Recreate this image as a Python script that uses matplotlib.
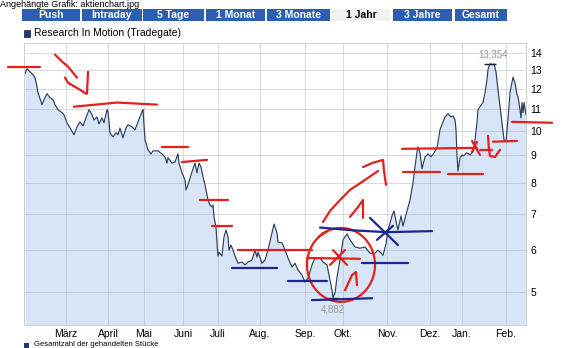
import numpy as np
import matplotlib
matplotlib.use('Agg')
import matplotlib.pyplot as plt
from matplotlib.patches import Rectangle
from matplotlib.ticker import NullLocator

plt.rcParams['font.family'] = ['Liberation Sans', 'DejaVu Sans']

# ---------------- data (trading-day index, price in EUR) ----------------
day = [0.5, 1.5, 3, 4.5, 5.5, 6.5, 7, 8.5, 9, 10, 11.5, 13, 14.5, 15.5, 17, 19, 20,
       21.5, 23, 25, 26.5, 28, 29.5, 31, 32.5, 34, 35, 36.5, 37.5, 39, 40, 41.5, 42,
       43, 44.5, 46, 47, 48, 49.5, 51, 52, 54, 55.5, 57, 59, 59.5, 60.5, 62, 63.5,
       64.5, 67, 69, 70.5, 71.5, 72, 74, 75.5, 77, 77.5, 79, 80.5, 81, 82, 84, 85.5,
       86.5, 87.5, 88.5, 89.5, 90.5, 91.5, 92, 93, 94, 94.5, 95, 96, 96.5, 97, 97.5,
       99, 100, 101, 102, 102.5, 103.5, 104.5, 105.5, 107, 109, 110.5, 112, 114,
       115.5, 116.5, 117, 119, 120.5, 122, 124, 125, 126.5, 127, 129, 130.5, 132,
       134, 135.5, 137, 139, 140.5, 142, 144, 145.5, 148, 149.5, 151.5, 152.5, 154,
       154.5, 155.5, 156.5, 158, 159.5, 161.5, 163, 165.5, 168, 170.5, 173, 175.5,
       177, 179.5, 181, 182, 184, 185, 186, 187, 188.5, 189.5, 191.5, 193, 194.5,
       195.5, 196.5, 197, 198, 199, 200.5, 202, 203.5, 205, 206.5, 208, 209.5, 210.5,
       212, 213.5, 214.5, 215.5, 216, 216.5, 217, 218, 219, 219.5, 221.5, 223, 224.5,
       225.5, 226.5, 227, 228, 229.5, 230.5, 231.5, 232, 233, 234.5, 235, 236, 237,
       238, 239, 240, 241, 241.5, 242.5, 243, 244.5, 245.5, 246.5, 247, 248, 248.5,
       249, 249.5, 250, 251]
price = [12.79, 13.07, 12.90, 12.74, 12.58, 12.09, 11.79, 11.34, 11.20, 11.44, 11.74,
         11.54, 11.44, 11.20, 10.96, 10.82, 10.72, 10.36, 10.13, 9.84, 10.18, 10.40,
         10.22, 10.58, 10.96, 10.72, 10.49, 10.62, 10.31, 10.58, 10.36, 10.96, 10.87,
         9.92, 9.75, 9.92, 9.84, 10.13, 9.71, 10.13, 10.27, 10.18, 10.05, 10.40, 10.87,
         10.96, 9.63, 9.22, 9.06, 9.18, 9.18, 9.06, 8.94, 8.71, 8.91, 8.71, 8.75, 9.06,
         8.71, 8.35, 8.10, 7.76, 7.93, 8.39, 8.71, 8.35, 8.71, 8.56, 8.21, 7.93, 7.60,
         7.43, 7.27, 7.21, 7.27, 6.91, 6.61, 6.17, 5.84, 5.93, 5.84, 6.34, 6.53, 6.34,
         5.99, 6.12, 5.99, 5.84, 5.66, 5.69, 5.62, 5.69, 5.74, 5.99, 5.81, 5.94, 5.66,
         5.74, 5.99, 6.45, 6.70, 6.45, 6.20, 6.18, 5.99, 5.79, 5.57, 5.66, 5.50, 5.38,
         5.22, 5.31, 5.62, 5.79, 5.79, 5.69, 5.62, 5.38, 5.04, 4.882, 4.98, 5.33, 5.74,
         6.26, 6.42, 6.26, 6.07, 6.04, 6.07, 5.91, 5.91, 5.99, 5.86, 6.15, 6.53, 6.94,
         7.09, 6.79, 6.53, 6.94, 6.64, 7.09, 7.43, 8.00, 8.57, 9.14, 9.34, 9.10, 8.50,
         8.94, 9.06, 8.95, 9.10, 9.30, 10.05, 10.40, 10.62, 10.77, 10.62, 10.67, 10.49,
         10.05, 8.98, 8.42, 8.91, 9.02, 8.98, 9.10, 9.02, 9.14, 9.63, 10.36, 10.96,
         11.10, 11.30, 11.79, 12.47, 13.02, 13.354, 13.30, 13.35, 12.90, 11.94, 11.10,
         10.36, 9.63, 9.55, 10.05, 11.10, 11.79, 12.60, 12.30, 11.69, 11.59, 10.96,
         10.58, 11.30, 10.82, 11.30, 10.72]

month_labels = ['März', 'April', 'Mai', 'Juni', 'Juli', 'Aug.', 'Sep.', 'Okt.',
                'Nov.', 'Dez.', 'Jan.', 'Feb.']
month_pos = [21, 42, 60, 79.5, 97, 118, 140.5, 159.5, 181.5, 203, 219, 241]
price_ticks = [5, 6, 7, 8, 9, 10, 11, 12, 13, 14]

tabs = ['Push', 'Intraday', '5 Tage', '1 Monat', '3 Monate', '1 Jahr', '3 Jahre', 'Gesamt']
active_tab = '1 Jahr'
series_name = 'Research In Motion (Tradegate)'
title_text = 'Angehängte Grafik: aktienchart.jpg'
footer_text = 'Gesamtzahl der gehandelten Stücke'

# hand-drawn annotations (day index, price)
red_strokes = [
    [(-8, 13.19), (8, 13.19)],
    [(15.5, 13.89), (19, 13.48), (22, 13.19), (24.5, 12.85), (26.5, 12.58)],
    [(20.5, 12.58), (22, 12.31), (25.5, 12.09), (28, 11.94), (31, 11.74)],
    [(32, 12.90), (31.5, 11.74)],
    [(25, 11.10), (46.5, 11.30), (66.5, 11.20)],
    [(69, 9.34), (82, 9.34)],
    [(79, 8.75), (91.5, 8.83)],
    [(88, 7.43), (102, 7.43)],
    [(94, 6.64), (104, 6.64)],
    [(107, 6.0), (144, 6.0)],
    [(141.5, 5.79), (168, 5.77)],
    [(154.5, 5.99), (161.5, 5.62)],
    [(153, 5.62), (160.5, 5.99)],
    [(160.5, 5.04), (164, 5.38), (166, 5.45), (166.5, 5.15)],
    [(149.5, 6.76), (153, 7.09), (158, 7.43), (163, 7.76), (170.5, 8.10), (177, 8.42)],
    [(169.5, 8.56), (174, 8.71), (179.5, 8.83), (180, 8.42), (181, 7.93)],
    [(163, 6.91), (167, 7.21), (169.5, 7.43), (169.5, 6.88)],
    [(189, 9.26), (226.5, 9.30)],
    [(189.5, 8.39), (208, 8.39)],
    [(212, 8.31), (229.5, 8.31)],
    [(224, 9.58), (228, 9.02)],
    [(226.5, 9.55), (224, 9.14)],
    [(228, 9.22), (234, 9.22)],
    [(232, 9.79), (232.5, 9.22), (233, 8.98), (235.5, 8.94), (238, 9.22)],
    [(234.5, 9.55), (246.5, 9.58)],
    [(244, 10.40), (264, 10.36)],
]
red_circle = {'day': 158.5, 'price': 5.62, 'rx': 17, 'rlog': 0.159}
blue_strokes = [
    [(104, 5.55), (126.5, 5.55)],
    [(132, 5.24), (151.5, 5.24)],
    [(144, 4.83), (174, 4.87)],
    [(148, 6.60), (165, 6.52), (181.5, 6.47), (204, 6.50)],
    [(173, 6.88), (187, 6.12)],
    [(176.5, 6.26), (184.5, 6.65)],
    [(169, 5.67), (192, 5.67)],
]

# ---------------- figure ----------------
W, H = 575, 348
fig = plt.figure(figsize=(W / 100, H / 100), dpi=100)
fig.patch.set_facecolor('white')

def fx(px):
    return px / W

def fy(py):
    return 1 - py / H

ax = fig.add_axes([fx(24), fy(325), fx(526) - fx(24), fy(43) - fy(325)])
ax.set_yscale('log')
ymin, ymax = 4.34, 14.6
ax.set_ylim(ymin, ymax)
ax.set_xlim(0, 251)

ax.fill_between(day, price, ymin, color='#d8e5f7', lw=0, zorder=0.3)
ax.plot(day, price, color='#2a3f5e', lw=0.85, zorder=2)

# min / max markers
imax = int(np.argmax(price))
imin = int(np.argmin(price))
ax.plot([day[imax]], [price[imax]], marker='_', ms=8, mew=1.0, color='#222222', zorder=3)
ax.plot([day[imin]], [price[imin]], marker='_', ms=8, mew=1.0, color='#222222', zorder=3)
ax.annotate(f"{price[imax]:.3f}".replace('.', ','), (day[imax], price[imax]),
            xytext=(2, 3), textcoords='offset points', ha='center', va='bottom',
            fontsize=7, color='#9a9a9a')
ax.annotate(f"{price[imin]:.3f}".replace('.', ','), (day[imin], price[imin]),
            xytext=(0, -8.5), textcoords='offset points', ha='center', va='center',
            fontsize=7, color='#9a9a9a')

ax.yaxis.tick_right()
ax.set_yticks(price_ticks)
ax.set_yticklabels([str(t) for t in price_ticks])
ax.yaxis.set_minor_locator(NullLocator())
ax.set_xticks(month_pos)
ax.set_xticklabels(month_labels)
ax.tick_params(axis='both', length=0, labelsize=7.5, colors='black')
ax.tick_params(axis='y', pad=3)
ax.tick_params(axis='x', pad=3)
ax.set_axisbelow(True)
ax.grid(True, color='#a9b0b8', alpha=0.45, lw=0.7)
for s in ax.spines.values():
    s.set_color('#cfcfcf')
    s.set_linewidth(0.7)

# annotations
red = '#e3211c'
navy = '#1c2590'
for st in red_strokes:
    xs, ys = zip(*st)
    ax.plot(xs, ys, color=red, lw=1.6, clip_on=False, zorder=5,
            solid_capstyle='round', solid_joinstyle='round')
t = np.linspace(np.deg2rad(115), np.deg2rad(115 + 375), 200)
cx = red_circle['day'] + red_circle['rx'] * np.cos(t)
cy = np.exp(np.log(red_circle['price']) + red_circle['rlog'] * np.sin(t))
ax.plot(cx, cy, color=red, lw=1.6, clip_on=False, zorder=5)
for st in blue_strokes:
    xs, ys = zip(*st)
    ax.plot(xs, ys, color=navy, lw=1.6, clip_on=False, zorder=6,
            solid_capstyle='round')

# ---------------- header: title, tabs, legend ----------------
fig.text(fx(0), fy(0.3), title_text, fontsize=6.5, color='black', ha='left', va='top')

tab_edges = [(22, 80), (82, 142), (143, 204), (206, 265), (267, 330),
             (332, 390), (393, 452), (455, 507)]
for name, (x0, x1) in zip(tabs, tab_edges):
    active = name == active_tab
    rect = Rectangle((fx(x0), fy(21)), fx(x1) - fx(x0), fy(9) - fy(21),
                     transform=fig.transFigure,
                     facecolor='#f2f2f2' if active else '#2d5fb0', edgecolor='none')
    fig.add_artist(rect)
    fig.text((fx(x0) + fx(x1)) / 2, fy(14.5), name, ha='center', va='center',
             fontsize=7.5, fontweight='bold',
             color='black' if active else 'white')

fig.add_artist(Rectangle((fx(24), fy(37)), fx(6), fy(30) - fy(37),
                         transform=fig.transFigure, facecolor='#1f3a6e',
                         edgecolor='#0e1e40', lw=0.5))
fig.text(fx(34), fy(33.5), series_name, fontsize=7.5, ha='left', va='center')

# footer (at the bottom edge)
fig.add_artist(Rectangle((fx(24), fy(347.5)), fx(5), fy(342.5) - fy(347.5),
                         transform=fig.transFigure, facecolor='#1f3a6e',
                         edgecolor='none'))
fig.text(fx(34), fy(347.8), footer_text, fontsize=5.5, ha='left', va='bottom')

fig.savefig('out.png', dpi=100)
